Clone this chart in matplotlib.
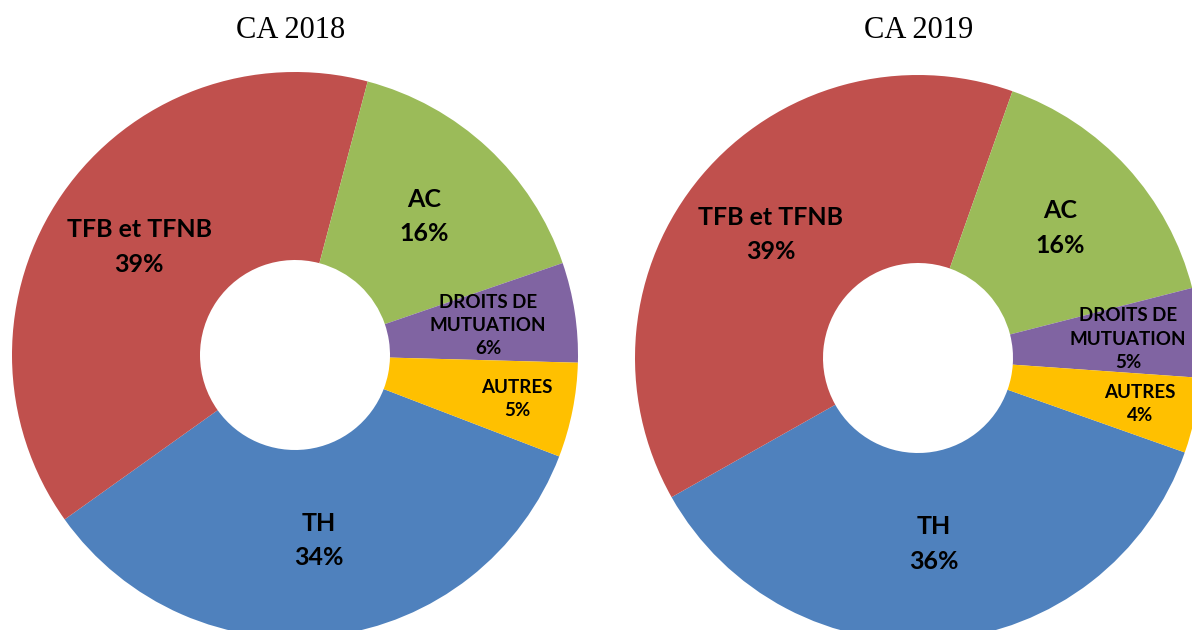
"""Two donut charts: CA 2018 vs CA 2019 revenue breakdown."""

import numpy as np
from matplotlib import pyplot as plt

# ── data ──────────────────────────────────────────────────────────────────
categories = ['TH', 'TFB et TFNB', 'AC', 'DROITS DE\nMUTUATION', 'AUTRES']
shares_2018 = [34.3, 39.0, 15.6, 5.7, 5.4]
shares_2019 = [36.4, 38.6, 15.6, 5.1, 4.3]
titles = ['CA 2018', 'CA 2019']

colors = ['#4F81BD', '#C0504D', '#9BBB59', '#8064A2', '#FFC000']
W, H = 1192, 630

# ── per-chart layout (pixels) ─────────────────────────────────────────────
charts = [
    dict(values=shares_2018, title=titles[0], cx=295, cy=355, r=283, start=-21, tx=291,
         lab_r=[0.66, 0.67, 0.67, 0.69, 0.80]),
    dict(values=shares_2019, title=titles[1], cx=918, cy=358, r=283, start=-19.5, tx=919,
         lab_r=[0.66, 0.68, 0.68, 0.745, 0.80]),
]
HOLE = 95 / 283

fig = plt.figure(figsize=(W / 100, H / 100), dpi=100)

for ch in charts:
    r = ch['r']
    ax = fig.add_axes([(ch['cx'] - r) / W, (H - ch['cy'] - r) / H, 2 * r / W, 2 * r / H])
    wedges, _ = ax.pie(ch['values'], colors=colors, startangle=ch['start'],
                       counterclock=False, radius=1,
                       wedgeprops=dict(width=1 - HOLE, linewidth=0))
    ax.set_xlim(-1, 1)
    ax.set_ylim(-1, 1)
    ax.set_aspect('equal')
    ax.axis('off')

    for w, name, val, lr in zip(wedges, categories, ch['values'], ch['lab_r']):
        mid = np.deg2rad((w.theta1 + w.theta2) / 2)
        x, y = lr * np.cos(mid), lr * np.sin(mid)
        small = '\n' in name or name == 'AUTRES'
        ax.text(x, y, f"{name}\n{round(val)}%", ha='center', va='center',
                family='Lato', weight='bold', fontsize=13.5 if small else 18,
                linespacing=1.45 if small else 1.6, color='black')

    fig.text(ch['tx'] / W, 1 - 30 / H, ch['title'], ha='center', va='center',
             family='Liberation Serif', fontsize=22)

fig.savefig('out.png', dpi=100)
